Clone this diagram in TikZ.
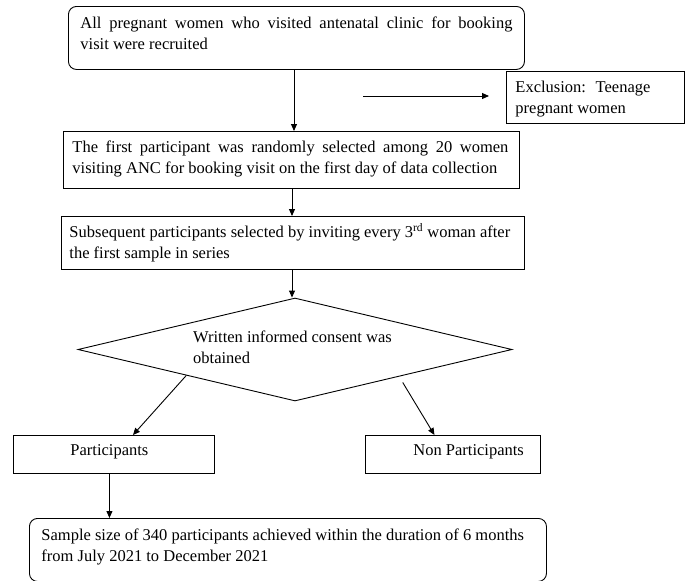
\documentclass[tikz,border=0pt]{standalone}
\usepackage{fontspec}
\setmainfont{Liberation Serif}
\usetikzlibrary{arrows.meta,calc,shapes.geometric}
\begin{document}
\begin{tikzpicture}[x=1pt,y=-1pt,
  every node/.style={font=\fontsize{16.5}{21}\selectfont},
  plainbox/.style={draw, line width=0.9pt, inner ysep=0pt, anchor=north west},
  roundbox/.style={plainbox, rounded corners=8pt},
  arr/.style={line width=0.9pt, -{Triangle[length=7pt,width=6pt]}}]
\useasboundingbox (0,0) rectangle (691,581);
\coordinate (spineA) at (294,0);
\coordinate (spineB) at (292,0);
% top box
\node[roundbox, inner xsep=12pt] (b1) at (68,6)
  {\parbox[c][63pt][t]{432pt}{\rule{0pt}{22pt}\makebox[432pt][s]{All pregnant women who visited antenatal clinic for booking}\\visit were recruited}};
% exclusion
\node[plainbox, inner xsep=9pt] (ex) at (506,71)
  {\parbox[c][52pt][t]{160pt}{\rule{0pt}{21pt}Exclusion:~ Teenage\\pregnant women}};
\coordinate (ea) at (363,96);
\coordinate (eb) at (489,96);
% box 2
\node[plainbox, inner xsep=9pt] (b2) at (63,131)
  {\parbox[c][57pt][t]{438pt}{\rule{0pt}{21pt}\makebox[436pt][s]{The first participant was randomly selected among 20 women}\\visiting ANC for booking visit on the first day of data collection}};
% box 3
\node[plainbox, inner xsep=8pt] (b3) at (61,216)
  {\parbox[c][53pt][t]{447pt}{\rule{0pt}{21pt}Subsequent participants selected by inviting every 3\textsuperscript{rd} woman after\\the first sample in series}};
% diamond
\node[diamond, draw, line width=0.9pt, inner sep=0pt, minimum width=434pt, minimum height=103pt] (dia) at (295,349.5) {};
\node[anchor=north west, inner sep=0pt, align=left] (dtext) at (193,322)
  {\rule{0pt}{20pt}Written informed consent was\\obtained};
% participants
\node[plainbox, inner xsep=0pt] (part) at (13,435)
  {\parbox[c][38pt][t]{201pt}{\rule{0pt}{20pt}\hspace*{57pt}Participants}};
\node[plainbox, inner xsep=0pt] (np) at (365,435)
  {\parbox[c][38pt][t]{175pt}{\rule{0pt}{20pt}\hspace*{48pt}Non Participants}};
% sample
\node[roundbox, inner xsep=12pt] (sample) at (29,518)
  {\parbox[c][63pt][t]{493pt}{\rule{0pt}{22pt}Sample size of 340 participants achieved within the duration of 6 months\\from July 2021 to December 2021}};
% connectors
\draw[arr] (b1.south -| spineA) -- (b2.north -| spineA);
\draw[arr] (ea) -- (eb);
\draw[arr] (b2.south -| spineB) -- (b3.north -| spineB);
\draw[arr] (b3.south -| spineB) -- (dia.north -| spineB);
\draw[arr] ($(dia.west)!0.5!(dia.south)$) -- ($(part.north)+(19,0)$);
\coordinate (rs) at ($(dia.east)!0.5!(dia.south)+(-1,7)$);
\draw[arr] (rs) -- ($(np.north)+(-18.5,0)$);
\coordinate (p4) at ($(part.south)+(-4.5,0)$);
\draw[arr] (p4) -- (p4 |- sample.north);
\end{tikzpicture}
\end{document}
